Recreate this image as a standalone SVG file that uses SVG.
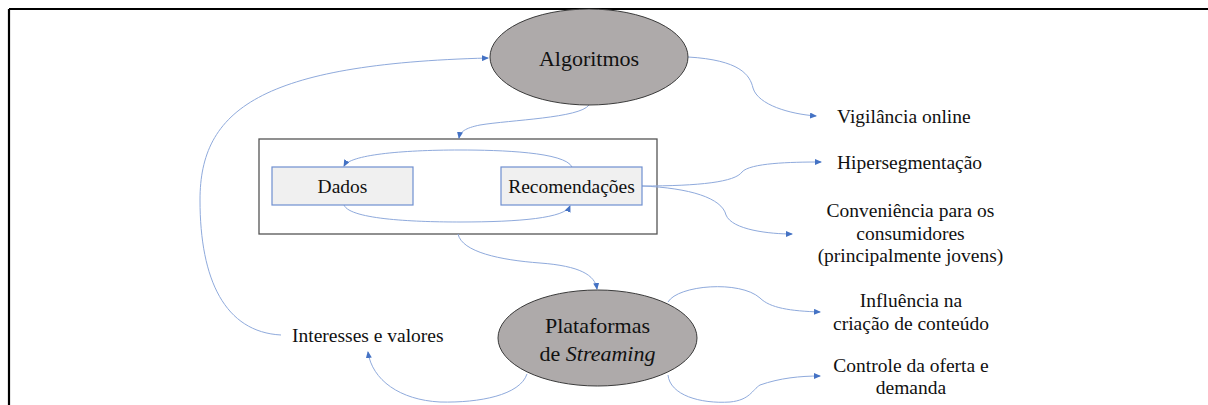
<svg xmlns="http://www.w3.org/2000/svg" width="1208" height="405" viewBox="0 0 1208 405">
  <style>
    text { font-family: "Liberation Serif", Tinos, "Nimbus Roman", "Nimbus Roman No9 L", "Noto Serif", "DejaVu Serif", FreeSerif, serif; fill: #111; }
    .t { font-size: 19.5px; }
    .big { font-size: 22px; }
    .ell { fill: #aeaaaa; stroke: #3a3a3a; stroke-width: 1; }
    .box { fill: #f0f0f0; stroke: #6f8fd0; stroke-width: 1.2; }
    .frame { fill: #ffffff; stroke: #555555; stroke-width: 1.3; }
    .con { fill: none; stroke: #8faadc; stroke-width: 1; marker-end: url(#arr); }
  </style>
  <defs>
    <marker id="arr" markerWidth="7" markerHeight="6" refX="6" refY="3" orient="auto" markerUnits="userSpaceOnUse">
      <path d="M0,0 L7,3 L0,6 Z" fill="#4472c4"/>
    </marker>
  </defs>
  <rect width="1208" height="405" fill="#ffffff"/>
  <g id="outer-frame">
    <line x1="9" y1="9" x2="1208" y2="9" stroke="#000" stroke-width="2.2"/>
    <line x1="9" y1="9" x2="9" y2="405" stroke="#000" stroke-width="2.2"/>
  </g>

  <g id="inner-box">
    <rect class="frame" x="259" y="139" width="398" height="95"/>
  </g>

  <g id="connectors">
    <path class="con" d="M281,335 C225,332 200,280 200,200 C200,110 260,64 488,58"/>
    <path class="con" d="M688,57 C740,60 750,75 753,88 C758,105 790,114 816,116"/>
    <path class="con" d="M589,105 C580,118 510,120 480,125 C465,128 460,132 459,138"/>
    <path class="con" d="M458,234 C462,252 500,260 540,263 C580,266 595,275 597,289"/>
    <path class="con" d="M572,167 C565,152 500,150 460,150 C400,150 350,155 344,166"/>
    <path class="con" d="M344,205 C350,220 420,222 460,222 C520,222 565,218 570,206"/>
    <path class="con" d="M642,186 C700,186 735,182 742,172 C750,163 790,162 821,162"/>
    <path class="con" d="M642,186 C690,188 722,198 726,215 C732,230 770,234 792,234"/>
    <path class="con" d="M668,302 C678,285 740,280 760,298 C770,308 790,311 820,312"/>
    <path class="con" d="M668,375 C670,395 700,404 730,402 C750,400 752,390 760,385 C780,378 800,376 820,376"/>
    <path class="con" d="M527,374 C520,395 480,403 440,402 C400,400 372,380 368,352"/>
  </g>

  <g id="algoritmos">
    <ellipse class="ell" cx="589" cy="57" rx="99" ry="48"/>
    <text class="big" x="589" y="66" text-anchor="middle">Algoritmos</text>
  </g>

  <g id="dados">
    <rect class="box" x="272" y="167" width="141" height="38"/>
    <text class="t" x="342.5" y="193" text-anchor="middle">Dados</text>
  </g>

  <g id="recomendacoes">
    <rect class="box" x="501" y="167" width="141" height="38"/>
    <text class="t" x="571.5" y="193" text-anchor="middle">Recomendações</text>
  </g>

  <g id="plataformas">
    <ellipse class="ell" cx="597.5" cy="338" rx="99.5" ry="48"/>
    <text class="big" x="597.5" y="333" text-anchor="middle">Plataformas</text>
    <text class="big" x="597.5" y="361" text-anchor="middle">de <tspan font-style="italic">Streaming</tspan></text>
  </g>

  <g id="interesses">
    <text class="t" x="292" y="342">Interesses e valores</text>
  </g>

  <g id="vigilancia">
    <text class="t" x="837" y="123">Vigilância online</text>
  </g>

  <g id="hipersegmentacao">
    <text class="t" x="837" y="169">Hipersegmentação</text>
  </g>

  <g id="conveniencia">
    <text class="t" x="910.5" y="217" text-anchor="middle">Conveniência para os</text>
    <text class="t" x="910.5" y="240" text-anchor="middle">consumidores</text>
    <text class="t" x="910.5" y="262" text-anchor="middle">(principalmente jovens)</text>
  </g>

  <g id="influencia">
    <text class="t" x="911" y="307" text-anchor="middle">Influência na</text>
    <text class="t" x="911" y="330" text-anchor="middle">criação de conteúdo</text>
  </g>

  <g id="controle">
    <text class="t" x="911" y="372" text-anchor="middle">Controle da oferta e</text>
    <text class="t" x="911" y="394" text-anchor="middle">demanda</text>
  </g>
</svg>
